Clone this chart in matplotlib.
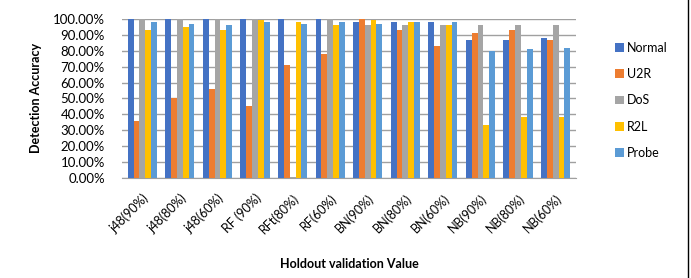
import matplotlib.pyplot as plt
import numpy as np
from matplotlib.ticker import FuncFormatter
from matplotlib.lines import Line2D

plt.rcParams['font.family'] = ['Lato', 'DejaVu Sans']

categories = ['j48(90%)', 'j48(80%)', 'j48(60%)', 'RF (90%)', 'RFt(80%)', 'RF(60%)',
              'BN(90%)', 'BN(80%)', 'BN(60%)', 'NB(90%)', 'NB(80%)', 'NB(60%)']
normal = [100, 100, 100, 100, 100, 100, 98, 98, 98, 87, 87, 88]
u2r    = [36, 50, 56, 45, 71, 78, 100, 93, 83, 91, 93, 87]
dos    = [100, 100, 100, 100, 0.5, 100, 96, 96, 96, 96, 96, 96]
r2l    = [93, 95, 93, 99, 98, 96, 99, 98, 96, 33, 38, 38]
probe  = [98, 97, 96, 98, 97, 98, 97, 98, 98, 80, 81, 82]

series = [('Normal', normal, '#4472C4'), ('U2R', u2r, '#ED7D31'),
          ('DoS', dos, '#A5A5A5'), ('R2L', r2l, '#FFC000'), ('Probe', probe, '#5B9BD5')]

fig = plt.figure(figsize=(6.91, 2.78), dpi=100)
ax = fig.add_axes([0.176, 0.36, 0.658, 0.572])

x = np.arange(len(categories))
w = 0.155
for i, (name, vals, col) in enumerate(series):
    ax.bar(x + (i - 2) * w, np.array(vals) / 100, width=w, color=col, label=name,
           edgecolor='none', zorder=3)

ax.set_ylim(0, 1.0)
ax.set_xlim(-0.55, len(categories) - 0.45)
ax.set_yticks(np.arange(0, 1.01, 0.1))
ax.yaxis.set_major_formatter(FuncFormatter(lambda v, p: f'{v*100:.2f}%'))
ax.grid(axis='y', color='#A0A0A0', linewidth=1, zorder=0)
ax.set_xticks(x)
ax.set_xticklabels(categories, rotation=45, ha='right', rotation_mode='anchor', fontsize=9)
ax.tick_params(axis='y', labelsize=9.5, length=0, pad=12)
ax.tick_params(axis='x', length=0, pad=10)
for s in ['top', 'right', 'left']:
    ax.spines[s].set_visible(False)
ax.spines['bottom'].set_color('#A0A0A0')

ax.set_ylabel('Detection Accuracy', fontsize=9, fontweight='bold', labelpad=8)
ax.set_xlabel('Holdout validation Value', fontsize=9, fontweight='bold', labelpad=16)

ax.legend(loc='center left', bbox_to_anchor=(1.06, 0.487), frameon=False, fontsize=9,
          handlelength=0.7, handleheight=0.7, handletextpad=0.3, labelspacing=1.15)

fig.add_artist(Line2D([0.995, 0.995], [0, 1], color='black', linewidth=1,
                      transform=fig.transFigure))

fig.savefig('out.png', dpi=100)
